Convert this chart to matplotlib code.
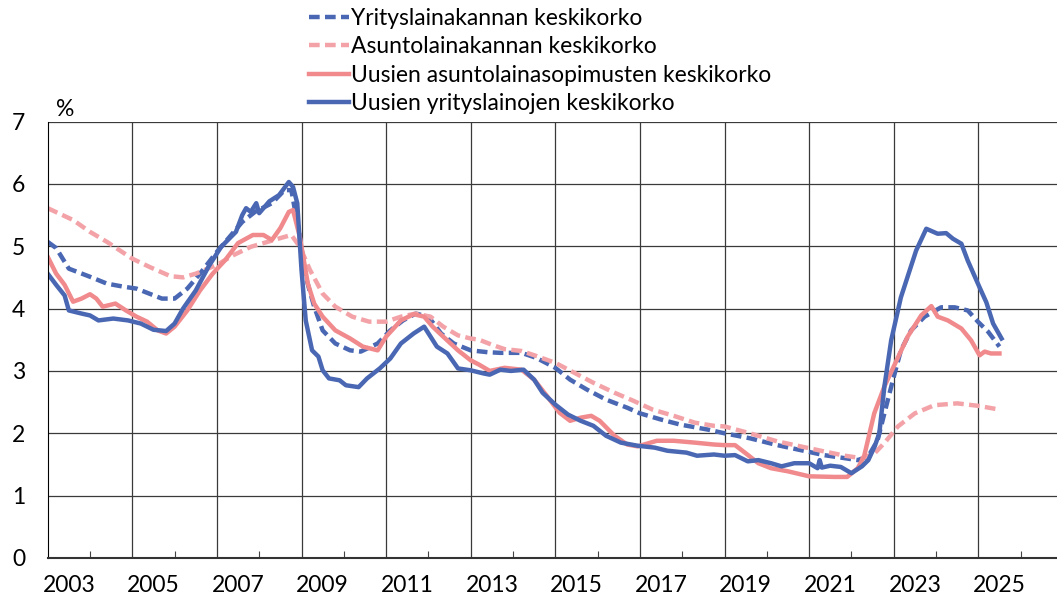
import matplotlib
matplotlib.use("Agg")
import matplotlib.pyplot as plt
import numpy as np

# Yrityslainakannan keskikorko (dashed blue)
yk_x = [2003.0, 2003.2, 2003.5, 2004.0, 2004.4, 2004.8, 2005.1, 2005.4, 2005.7, 2006.0,
        2006.3, 2006.6, 2007.0, 2007.3, 2007.6, 2007.9, 2008.3, 2008.6, 2008.76, 2008.96,
        2009.1, 2009.3, 2009.5, 2009.8, 2010.15, 2010.4, 2010.8, 2011.1, 2011.4, 2011.7,
        2012.0, 2012.3, 2012.6, 2013.0, 2013.4, 2013.7, 2014.2, 2014.55, 2015.0, 2015.35,
        2015.75, 2016.2, 2016.7, 2017.0, 2017.5, 2017.95, 2018.6, 2019.0, 2019.6, 2020.25,
        2020.8, 2021.35, 2021.85, 2022.15, 2022.4, 2022.62, 2022.78, 2022.98, 2023.17, 2023.41,
        2023.73, 2024.12, 2024.44, 2024.75, 2024.99, 2025.23, 2025.5]
yk_y = [5.07, 4.97, 4.64, 4.51, 4.40, 4.35, 4.32, 4.24, 4.16, 4.16,
        4.32, 4.56, 4.91, 5.15, 5.39, 5.55, 5.69, 5.90, 5.90, 5.15,
        4.51, 4.03, 3.65, 3.44, 3.33, 3.31, 3.44, 3.65, 3.81, 3.92,
        3.87, 3.60, 3.44, 3.33, 3.30, 3.29, 3.29, 3.21, 3.05, 2.86,
        2.70, 2.54, 2.41, 2.32, 2.22, 2.14, 2.06, 2.00, 1.92, 1.81,
        1.73, 1.65, 1.60, 1.57, 1.63, 1.89, 2.32, 2.85, 3.33, 3.65,
        3.87, 4.02, 4.02, 3.97, 3.79, 3.63, 3.39]

# Asuntolainakannan keskikorko (dashed pink)
ak_x = [2003.0, 2003.6, 2004.0, 2004.4, 2005.0, 2005.4, 2005.9, 2006.2, 2006.5, 2007.0,
        2007.4, 2007.8, 2008.2, 2008.5, 2008.76, 2008.96, 2009.2, 2009.5, 2009.8, 2010.2,
        2010.6, 2011.0, 2011.35, 2011.7, 2012.05, 2012.35, 2012.7, 2013.0, 2013.2, 2013.5,
        2013.8, 2014.2, 2014.55, 2015.0, 2015.45, 2015.9, 2016.4, 2016.85, 2017.3, 2017.8,
        2018.3, 2018.75, 2019.0, 2019.6, 2020.25, 2020.8, 2021.35, 2021.85, 2022.25, 2022.55,
        2022.8, 2023.1, 2023.5, 2023.96, 2024.5, 2025.0, 2025.5]
ak_y = [5.61, 5.42, 5.23, 5.07, 4.80, 4.67, 4.52, 4.50, 4.56, 4.70,
        4.86, 4.99, 5.07, 5.13, 5.18, 4.99, 4.62, 4.24, 4.03, 3.87,
        3.79, 3.79, 3.87, 3.92, 3.87, 3.71, 3.57, 3.52, 3.50, 3.42,
        3.35, 3.32, 3.24, 3.13, 2.97, 2.81, 2.65, 2.52, 2.38, 2.28,
        2.17, 2.12, 2.11, 2.00, 1.87, 1.79, 1.71, 1.64, 1.60, 1.68,
        1.86, 2.11, 2.32, 2.45, 2.48, 2.44, 2.38]

# Uusien asuntolainasopimusten keskikorko (solid pink)
au_x = [2003.0, 2003.2, 2003.4, 2003.6, 2003.8, 2004.0, 2004.15, 2004.3, 2004.6, 2004.85,
        2005.1, 2005.35, 2005.6, 2005.8, 2006.0, 2006.3, 2006.6, 2006.9, 2007.2, 2007.5,
        2007.85, 2008.1, 2008.3, 2008.5, 2008.7, 2008.8, 2008.96, 2009.15, 2009.3, 2009.5,
        2009.8, 2010.15, 2010.45, 2010.8, 2011.0, 2011.35, 2011.65, 2011.9, 2012.1, 2012.35,
        2012.7, 2013.0, 2013.2, 2013.45, 2013.8, 2014.2, 2014.5, 2014.8, 2015.1, 2015.35,
        2015.6, 2015.85, 2016.05, 2016.4, 2016.7, 2016.95, 2017.4, 2017.8, 2018.3, 2018.75,
        2019.0, 2019.25, 2019.5, 2019.8, 2020.1, 2020.5, 2021.0, 2021.6, 2021.9, 2022.15,
        2022.3, 2022.54, 2022.78, 2023.0, 2023.33, 2023.65, 2023.89, 2024.04, 2024.28, 2024.6,
        2024.83, 2025.03, 2025.15, 2025.3, 2025.5]
au_y = [4.83, 4.56, 4.38, 4.11, 4.16, 4.23, 4.16, 4.03, 4.08, 3.97,
        3.87, 3.79, 3.65, 3.60, 3.71, 3.97, 4.29, 4.56, 4.78, 5.05,
        5.18, 5.18, 5.10, 5.29, 5.55, 5.58, 5.15, 4.40, 4.08, 3.87,
        3.65, 3.52, 3.39, 3.33, 3.55, 3.81, 3.91, 3.87, 3.71, 3.55,
        3.33, 3.17, 3.10, 3.00, 3.05, 3.02, 2.86, 2.60, 2.33, 2.20,
        2.25, 2.28, 2.20, 1.96, 1.82, 1.79, 1.88, 1.88, 1.85, 1.82,
        1.81, 1.81, 1.68, 1.52, 1.44, 1.39, 1.31, 1.30, 1.30, 1.44,
        1.63, 2.32, 2.75, 3.07, 3.55, 3.89, 4.04, 3.87, 3.81, 3.68,
        3.49, 3.25, 3.31, 3.28, 3.28]

# Uusien yrityslainojen keskikorko (solid blue)
yu_x = [2003.0, 2003.2, 2003.4, 2003.5, 2003.8, 2004.0, 2004.2, 2004.55, 2004.9, 2005.2,
        2005.5, 2005.8, 2006.0, 2006.2, 2006.5, 2006.8, 2007.1, 2007.45, 2007.6, 2007.69,
        2007.8, 2007.93, 2008.0, 2008.24, 2008.47, 2008.7, 2008.8, 2008.9, 2009.0, 2009.1,
        2009.25, 2009.4, 2009.5, 2009.65, 2009.9, 2010.05, 2010.35, 2010.55, 2010.85, 2011.1,
        2011.35, 2011.65, 2011.9, 2012.05, 2012.2, 2012.45, 2012.7, 2013.0, 2013.3, 2013.45,
        2013.7, 2013.95, 2014.25, 2014.5, 2014.7, 2015.0, 2015.3, 2015.6, 2015.9, 2016.2,
        2016.55, 2016.95, 2017.35, 2017.65, 2018.1, 2018.35, 2018.75, 2019.0, 2019.25, 2019.55,
        2019.8, 2020.1, 2020.35, 2020.65, 2021.0, 2021.2, 2021.25, 2021.3, 2021.5, 2021.75,
        2022.0, 2022.25, 2022.4, 2022.55, 2022.66, 2022.78, 2022.94, 2023.17, 2023.53, 2023.77,
        2024.04, 2024.24, 2024.4, 2024.6, 2024.75, 2025.03, 2025.19, 2025.35, 2025.55]
yu_y = [4.56, 4.38, 4.21, 3.97, 3.92, 3.89, 3.81, 3.84, 3.81, 3.76,
        3.66, 3.64, 3.76, 4.00, 4.29, 4.67, 4.99, 5.23, 5.50, 5.61,
        5.55, 5.69, 5.53, 5.72, 5.82, 6.03, 5.95, 5.69, 4.62, 3.81,
        3.33, 3.23, 3.01, 2.88, 2.85, 2.77, 2.74, 2.88, 3.04, 3.20,
        3.44, 3.60, 3.71, 3.55, 3.39, 3.28, 3.04, 3.01, 2.96, 2.94,
        3.02, 3.00, 3.02, 2.86, 2.65, 2.46, 2.30, 2.20, 2.12, 1.96,
        1.85, 1.80, 1.77, 1.72, 1.69, 1.64, 1.66, 1.64, 1.65, 1.55,
        1.57, 1.52, 1.47, 1.52, 1.52, 1.44, 1.57, 1.45, 1.48, 1.46,
        1.36, 1.47, 1.57, 1.79, 2.00, 2.75, 3.49, 4.18, 4.93, 5.28,
        5.20, 5.21, 5.12, 5.04, 4.77, 4.34, 4.10, 3.76, 3.52]

labels = ["Yrityslainakannan keskikorko",
          "Asuntolainakannan keskikorko",
          "Uusien asuntolainasopimusten keskikorko",
          "Uusien yrityslainojen keskikorko"]
year_labels = [str(y) for y in range(2003, 2026, 2)]

blue = "#4A67B3"
pink = "#F08A8D"
pink_light = "#F3A3A8"

plt.rcParams['font.family'] = ['Lato', 'DejaVu Sans']

fig = plt.figure(figsize=(10.57, 6.02), dpi=100)
ax = fig.add_axes([47.7 / 1057, 1 - 558 / 602, 1 - 47.7 / 1057, (558 - 121.5) / 602])

dash = (0, (2.4, 1.2))
ax.plot(yk_x, yk_y, color=blue, lw=3.2, linestyle=dash, dash_capstyle='butt', label=labels[0])
ax.plot(ak_x, ak_y, color=pink_light, lw=3.2, linestyle=dash, dash_capstyle='butt', label=labels[1])
ax.plot(au_x, au_y, color=pink, lw=3.2, solid_joinstyle='round', label=labels[2])
ax.plot(yu_x, yu_y, color=blue, lw=3.2, solid_joinstyle='round', label=labels[3])

ax.set_xlim(2003, 2003 + (1057 - 47.7) / 42.3)
ax.set_ylim(0, 7)

# grid
for v in range(1, 8):
    ax.axhline(v, color="#3a3a3a", lw=0.9, zorder=0)
for yr in range(2005, 2027, 2):
    ax.axvline(yr, color="#3a3a3a", lw=0.9, zorder=0)

ax.set_yticks(range(0, 8))
ax.tick_params(axis='y', length=0, pad=16, labelsize=16.5)
ax.set_xticks(np.arange(2004, 2027, 2))
ax.set_xticklabels([])
ax.tick_params(axis='x', which='major', direction='in', length=5, color="#444444")
ax.set_xticks(np.arange(2003.5, 2026, 2), minor=True)
ax.set_xticklabels(year_labels, minor=True)
ax.tick_params(axis='x', which='minor', length=0, pad=12, labelsize=16.5)

for s in ['top', 'right']:
    ax.spines[s].set_visible(False)
ax.spines['left'].set_color('black')
ax.spines['bottom'].set_color('#333333')
ax.spines['bottom'].set_linewidth(1.5)

fig.text(65 / 1057, 1 - 110 / 602, "%", fontsize=16.5, ha='center', va='center')

fig.legend(loc='upper left', bbox_to_anchor=(309 / 1057, 1 - 8 / 602), frameon=False,
           fontsize=16.5, handlelength=1.75, handletextpad=0.1, labelspacing=0.32,
           borderpad=0, borderaxespad=0)

fig.savefig("out.png", dpi=100)
